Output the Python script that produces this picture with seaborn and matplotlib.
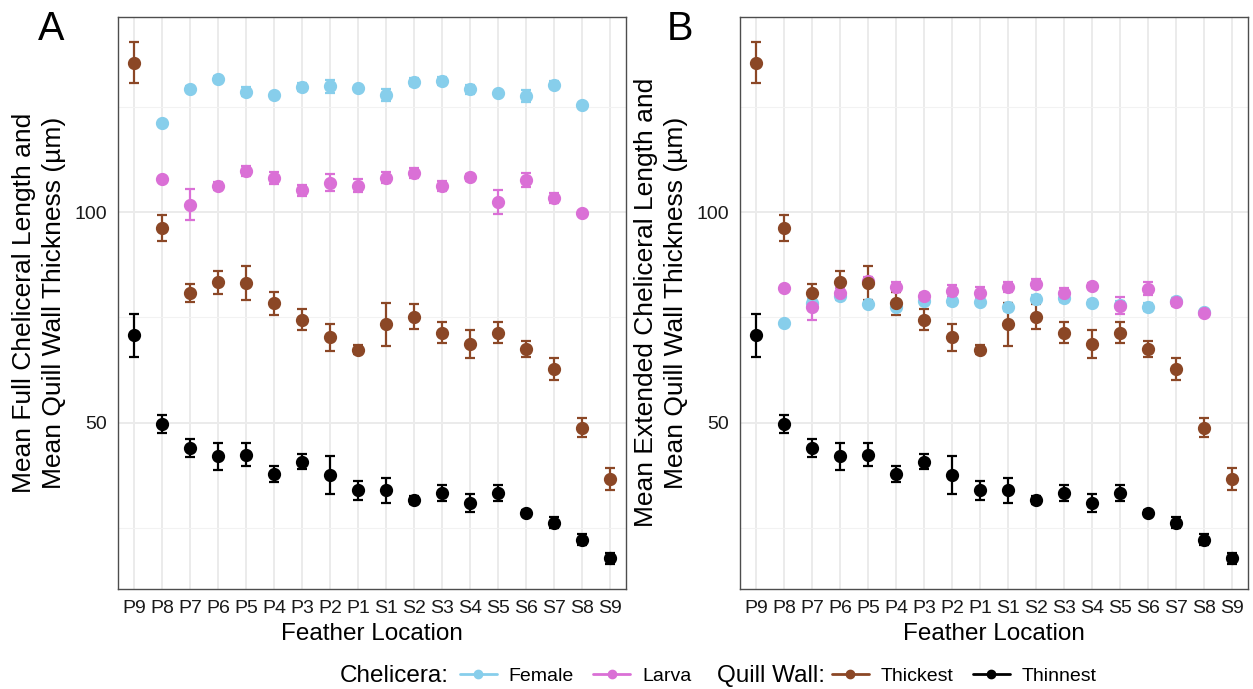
import numpy as np
import pandas as pd
import matplotlib.pyplot as plt
import seaborn as sns
from matplotlib.lines import Line2D
from matplotlib.ticker import FixedLocator

nan = np.nan

# feather locations in plotting order
locations = ['P9', 'P8', 'P7', 'P6', 'P5', 'P4', 'P3', 'P2', 'P1',
             'S1', 'S2', 'S3', 'S4', 'S5', 'S6', 'S7', 'S8', 'S9']

# panel A: full chelicera length (um), mean and SE
female_full = [nan, 121.1, 129.3, 131.6, 128.6, 127.7, 129.7, 129.9, 129.4,
               127.8, 130.9, 131.2, 129.2, 128.2, 127.5, 130.3, 125.5, nan]
female_full_se = [nan, 0.4, 0.6, 0.8, 1.0, 0.5, 0.9, 1.5, 0.6,
                  1.4, 0.9, 0.9, 1.1, 0.5, 1.4, 0.9, 0.4, nan]
larva_full = [nan, 107.8, 101.8, 106.2, 109.8, 108.1, 105.2, 107.0, 106.3,
              108.2, 109.3, 106.2, 108.3, 102.4, 107.6, 103.3, 99.9, nan]
larva_full_se = [nan, 0.4, 3.7, 1.0, 1.2, 1.5, 1.3, 2.0, 1.5,
                 1.3, 1.2, 1.2, 0.8, 2.8, 1.7, 1.2, 0.4, nan]

# panel B: extended chelicera length (um)
female_ext = [nan, 73.6, 78.5, 80.1, 78.1, 77.5, 78.8, 78.9, 78.6,
              77.5, 79.4, 79.6, 78.5, 78.0, 77.4, 78.9, 76.2, nan]
female_ext_se = [nan, 0.4, 0.8, 1.0, 0.7, 0.7, 0.7, 1.0, 0.6,
                 1.0, 0.8, 0.9, 0.6, 0.8, 0.9, 0.7, 0.4, nan]
larva_ext = [nan, 82.0, 77.4, 80.9, 83.7, 82.3, 80.1, 81.3, 80.9,
             82.3, 83.0, 80.9, 82.4, 77.8, 81.8, 78.6, 76.0, nan]
larva_ext_se = [nan, 0.4, 3.0, 1.0, 1.0, 1.2, 0.8, 1.5, 1.2,
                1.2, 1.0, 1.0, 0.7, 2.1, 1.5, 1.0, 0.4, nan]

# quill wall thickness (um), same in both panels
thick = [135.5, 96.2, 80.8, 83.3, 83.2, 78.3, 74.4, 70.3, 67.3,
         73.4, 75.2, 71.4, 68.7, 71.4, 67.6, 62.7, 48.8, 36.6]
thick_se = [4.8, 3.1, 2.1, 2.8, 4.0, 2.7, 2.5, 3.2, 1.1,
            5.1, 3.0, 2.5, 3.3, 2.5, 1.9, 2.6, 2.3, 2.6]
thin = [70.7, 49.7, 44.0, 42.0, 42.4, 37.8, 40.7, 37.5, 33.9,
        33.9, 31.6, 33.3, 30.9, 33.3, 28.6, 26.2, 22.2, 17.8]
thin_se = [5.1, 2.1, 2.2, 3.2, 2.8, 1.9, 1.8, 4.5, 2.3,
           3.0, 0.9, 1.8, 2.1, 1.8, 0.7, 1.3, 1.3, 1.3]

groups = ['Female', 'Larva', 'Thickest', 'Thinnest']
colors = {'Female': '#87CEEB', 'Larva': '#DA70D6',
          'Thickest': '#8B4726', 'Thinnest': '#000000'}


def long_table(female, female_se, larva, larva_se):
    frames = []
    for g, m, s in zip(groups, [female, larva, thick, thin],
                       [female_se, larva_se, thick_se, thin_se]):
        frames.append(pd.DataFrame({'location': locations, 'group': g,
                                    'mean': m, 'se': s}))
    return pd.concat(frames, ignore_index=True).dropna()


sns.set_theme(style='white')
plt.rcParams['font.family'] = ['Liberation Sans', 'DejaVu Sans']
plt.rcParams['text.color'] = 'black'
plt.rcParams['axes.labelcolor'] = 'black'

fig = plt.figure(figsize=(12.53, 6.89), dpi=100)
W, H = 1253, 689
axA = fig.add_axes([118 / W, 1 - 589 / H, 508 / W, 572.3 / H])
axB = fig.add_axes([740 / W, 1 - 589 / H, 508 / W, 572.3 / H])


def draw(ax, df, ylabel):
    pos = {loc: i for i, loc in enumerate(locations)}
    for g in groups:
        d = df[df.group == g]
        ax.errorbar(d['location'].map(pos), d['mean'], yerr=d['se'], fmt='none',
                    ecolor=colors[g], elinewidth=1.6, capsize=3.5, capthick=1.6,
                    zorder=2)
        sns.pointplot(data=d, x='location', y='mean', order=locations,
                      color=colors[g], linestyle='none', errorbar=None,
                      markers='o', markersize=7.5, ax=ax, zorder=3)
    ax.set_xlim(-0.57, len(locations) - 1 + 0.57)
    ax.set_ylim(10.5, 146.4)
    ax.yaxis.set_major_locator(FixedLocator([50, 100]))
    ax.yaxis.set_minor_locator(FixedLocator([25, 75, 125]))
    ax.grid(which='major', color='#EBEBEB', linewidth=1.4)
    ax.grid(which='minor', axis='y', color='#F2F2F2', linewidth=0.8)
    ax.set_axisbelow(True)
    for sp in ax.spines.values():
        sp.set_color('#4D4D4D')
        sp.set_linewidth(1.0)
    ax.tick_params(axis='both', which='major', length=3, width=0.8,
                   color='#4D4D4D', labelsize=14, labelcolor='#1A1A1A', pad=5)
    ax.tick_params(axis='y', which='minor', length=0)
    ax.set_xlabel('Feather Location', fontsize=17.5, labelpad=4)
    ax.set_ylabel(ylabel, fontsize=19, labelpad=6, linespacing=1.3)


draw(axA, long_table(female_full, female_full_se, larva_full, larva_full_se),
     'Mean Full Cheliceral Length and\nMean Quill Wall Thickness (\u00b5m)')
draw(axB, long_table(female_ext, female_ext_se, larva_ext, larva_ext_se),
     'Mean Extended Cheliceral Length and\nMean Quill Wall Thickness (\u00b5m)')

# panel tags
fig.text(38 / W, 1 - 10 / H, 'A', fontsize=28.5, ha='left', va='top')
fig.text(667 / W, 1 - 10 / H, 'B', fontsize=28.5, ha='left', va='top')


def key(g):
    return Line2D([0], [0], color=colors[g], marker='o', markersize=6, linewidth=2)


ly = 1 - 676 / H
fig.text(340 / W, ly, 'Chelicera:', fontsize=17.5, ha='left', va='center')
fig.legend([key('Female'), key('Larva')], ['Female', 'Larva'],
           loc='center left', bbox_to_anchor=(460 / W, ly), ncol=2,
           frameon=False, fontsize=14, borderpad=0, borderaxespad=0,
           handlelength=1.9, handletextpad=0.6, columnspacing=1.0)
fig.text(717 / W, ly, 'Quill Wall:', fontsize=17.5, ha='left', va='center')
fig.legend([key('Thickest'), key('Thinnest')], ['Thickest', 'Thinnest'],
           loc='center left', bbox_to_anchor=(832 / W, ly), ncol=2,
           frameon=False, fontsize=14, borderpad=0, borderaxespad=0,
           handlelength=1.9, handletextpad=0.6, columnspacing=1.0)

fig.savefig('out.png', dpi=100)
